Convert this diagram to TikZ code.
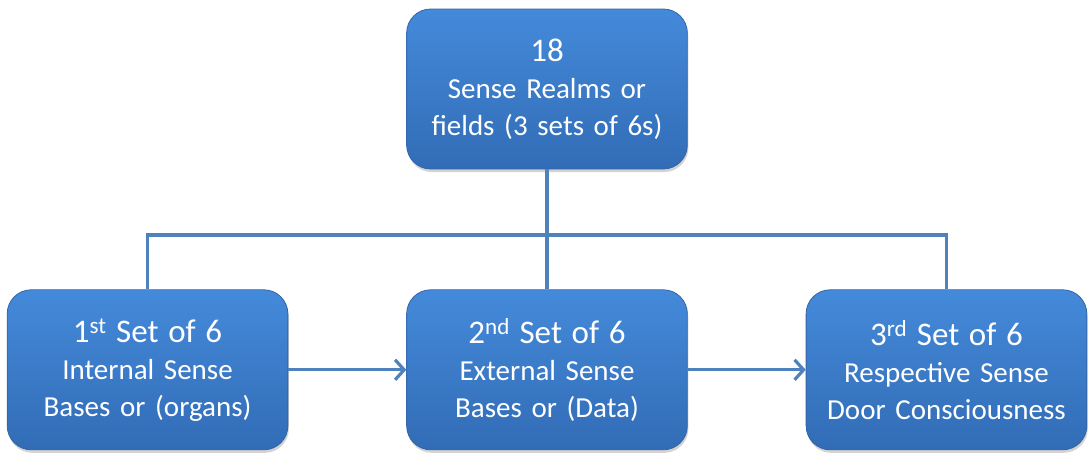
\documentclass[tikz,border=0pt]{standalone}
\usepackage{fontspec}
\setmainfont{Carlito}
\usetikzlibrary{arrows.meta,positioning,shadows}
\definecolor{boxtop}{RGB}{68,138,218}
\definecolor{boxbot}{RGB}{50,108,182}
\definecolor{boxedge}{RGB}{52,100,165}
\definecolor{linkblue}{RGB}{79,129,189}

\begin{document}
\begin{tikzpicture}[x=1pt, y=-1pt,
            node distance=120pt,
            box/.style={rectangle, draw=boxedge, line width=0.8pt, top color=boxtop, bottom color=boxbot, text=white, text width=274pt, align=center, minimum width=280pt, minimum height=160pt, rounded corners=24pt, drop shadow={shadow xshift=1pt, shadow yshift=-3pt, opacity=0.35}, font=\fontsize{29}{37}\selectfont},
            line/.style={linkblue, line width=3.2pt},
            arrow/.style={line, -{Straight Barb[length=9pt, width=20pt, line width=3.2pt]}}
        ]
        \useasboundingbox (0,0) rectangle (1088,453);
        \node[box] (realms) at (547,89) {{\fontsize{33}{40}\selectfont 18}\\Sense Realms or\\fields (3 sets of 6s)};
        \node[box, below=120pt of realms] (second) {{\fontsize{33}{40}\selectfont 2\textsuperscript{nd} Set of 6}\\External Sense\\Bases or (Data)};
        \node[box, left=118pt of second] (first) {{\fontsize{33}{40}\selectfont 1\textsuperscript{st} Set of 6}\\Internal Sense\\Bases or (organs)};
        \node[box, right=118pt of second] (third) {{\fontsize{33}{40}\selectfont 3\textsuperscript{rd} Set of 6}\\Respective Sense\\Door Consciousness};
        \coordinate (bus) at (547,235);

        \draw[line] (realms) -- (second);
        \draw[line] (first.north) -- (first.north |- bus) -- (third.north |- bus) -- (third.north);
        \draw[arrow] (first) -- (second);
        \draw[arrow] (second) -- (third);
        \end{tikzpicture}
\end{document}
